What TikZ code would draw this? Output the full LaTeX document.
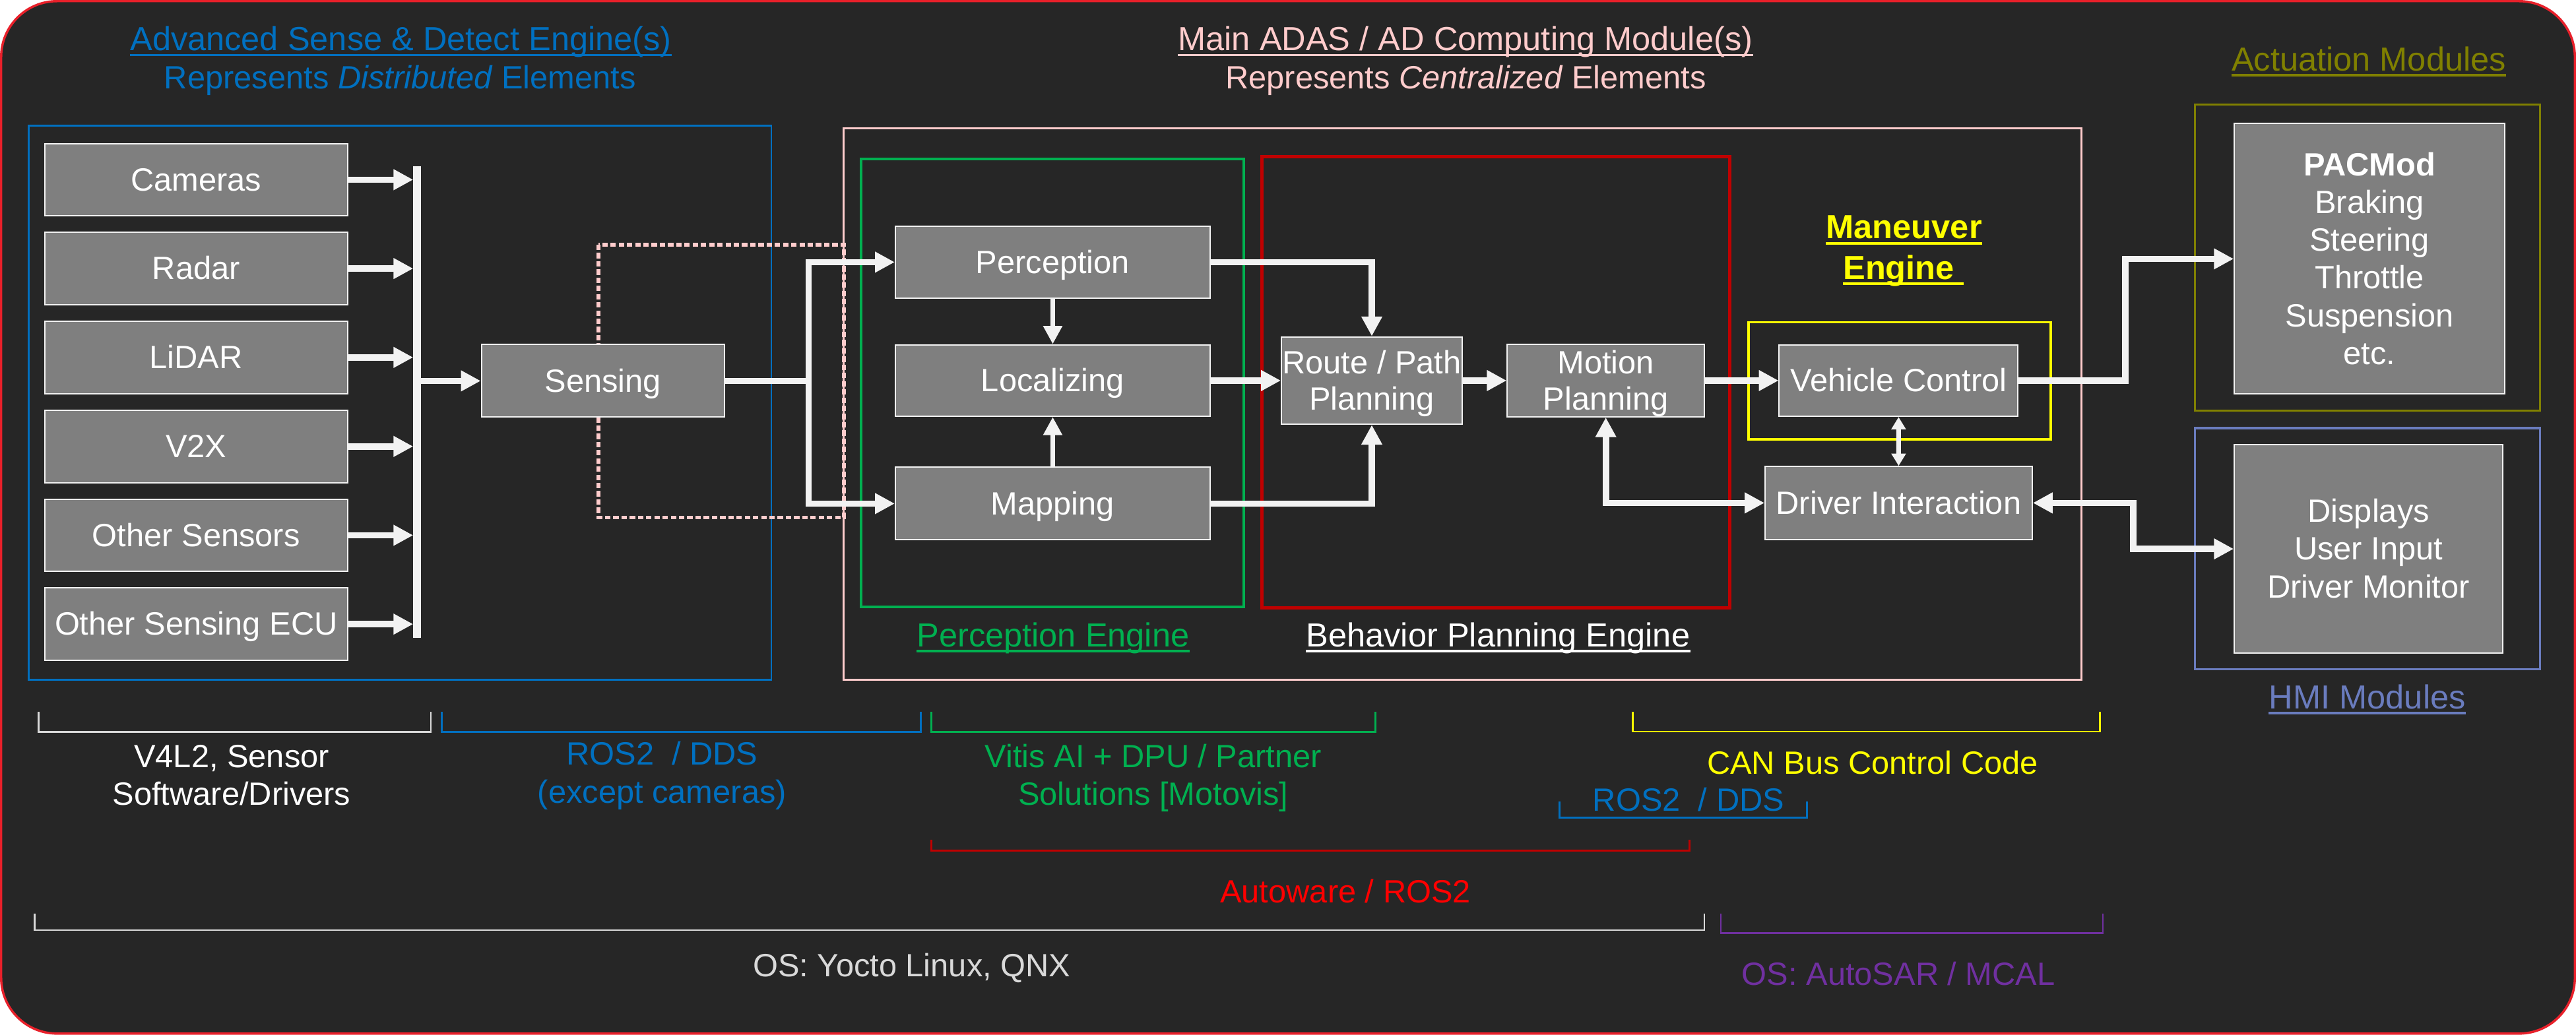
\documentclass[tikz,border=0pt]{standalone}
\usepackage{fontspec}
\setmainfont{Liberation Sans}
\usetikzlibrary{arrows.meta}
\definecolor{bg}{HTML}{262626}
\definecolor{frame}{HTML}{E8202A}
\definecolor{boxgray}{HTML}{7F7F7F}
\definecolor{boxline}{HTML}{F2F2F2}
\definecolor{arrowc}{HTML}{F2F2F2}
\definecolor{cblue}{HTML}{0070C0}
\definecolor{cpink}{HTML}{FFCCCC}
\definecolor{cgreen}{HTML}{00B050}
\definecolor{cdred}{HTML}{C00000}
\definecolor{cred}{HTML}{FF0000}
\definecolor{cyellow}{HTML}{FFFF00}
\definecolor{colive}{HTML}{808000}
\definecolor{chmi}{HTML}{6A7CBE}
\definecolor{cpurple}{HTML}{7030A0}
\definecolor{clgray}{HTML}{D9D9D9}
\newcommand{\fs}{\fontsize{19.6}{23}\selectfont}
\newcommand{\fsb}{\fontsize{19.6}{22.2}\selectfont}
\newcommand{\fsh}{\fontsize{20.3}{23}\selectfont}
\begin{document}
\begin{tikzpicture}[x=1pt,y=-1pt,
  gbox/.style={draw=boxline, line width=0.8pt, fill=boxgray, text=white, font=\fs, inner sep=0pt, align=center, text height=17.7pt, text depth=4.2pt},
  lbl/.style={inner sep=0pt, anchor=base, font=\fs},
  hdr/.style={inner sep=0pt, anchor=base, font=\fsh},
  fat/.style={draw=arrowc, line width=3.9pt, -{Triangle[width=12pt,length=12pt]}},
  fattwo/.style={draw=arrowc, line width=3.9pt, {Triangle[width=12pt,length=12pt]}-{Triangle[width=12pt,length=12pt]}},
  slim/.style={draw=arrowc, line width=3.2pt, -{Triangle[width=11pt,length=11pt]}},
  slimtwo/.style={draw=arrowc, line width=2.8pt, {Triangle[width=8.5pt,length=7.5pt]}-{Triangle[width=8.5pt,length=7.5pt]}},
  fatline/.style={draw=arrowc, line width=3.9pt},
  brk/.style={line width=1.1pt},
  ul/.style={line width=1.5pt}
]
\fill[white] (0,0) rectangle (1568,630);
\useasboundingbox (0,0) rectangle (1568,630);
\draw[frame, line width=1.4pt, fill=bg, rounded corners=34pt] (0.7,0.7) rectangle (1567.3,629.3);

% container frames
\draw[cblue, line width=1.1pt] (17.6,76.5) rectangle (469.5,414);
\draw[cpink, line width=1.1pt] (513.5,78) rectangle (1267,414);
\draw[cgreen, line width=1.6pt] (524.3,96.8) rectangle (757,369.5);
\draw[cdred, line width=2pt] (768,95.3) rectangle (1053,370.2);
\draw[cyellow, line width=1.3pt] (1064.3,196.3) rectangle (1248.3,267.5);
\draw[colive, line width=1.1pt] (1336,63.8) rectangle (1546,250);
\draw[chmi, line width=1.3pt] (1336,260.7) rectangle (1546,407.4);

% dotted pink link
\draw[cpink, line width=2.2pt, dash pattern=on 3.3pt off 1.7pt] (364.3,149) rectangle (513.6,315);

% sensor boxes
\node[gbox, minimum width=184.2pt, minimum height=44pt] (cam) at (119.4,109.4) {Cameras};
\node[gbox, minimum width=184.2pt, minimum height=44pt] (radar) at (119.4,163.5) {Radar};
\node[gbox, minimum width=184.2pt, minimum height=44pt] (lidar) at (119.4,217.6) {LiDAR};
\node[gbox, minimum width=184.2pt, minimum height=44pt] (vtx) at (119.4,271.8) {V2X};
\node[gbox, minimum width=184.2pt, minimum height=44pt] (oths) at (119.4,325.9) {Other Sensors};
\node[gbox, minimum width=184.2pt, minimum height=44pt] (ose) at (119.4,380) {Other Sensing ECU};

\node[gbox, minimum width=148pt, minimum height=44.2pt] (sens) at (367,231.9) {Sensing};

\node[gbox, minimum width=191.6pt, minimum height=44pt] (perc) at (640.8,159.6) {Perception};
\node[gbox, minimum width=191.6pt, minimum height=43.6pt] (loc) at (640.8,231.7) {Localizing};
\node[gbox, minimum width=191.6pt, minimum height=44.2pt] (map) at (640.8,306.6) {Mapping};

\node[gbox, font=\fsb, text depth=26.4pt, minimum width=110pt, minimum height=53.2pt] (route) at (835,231.7) {\begin{tabular}[t]{@{}c@{}}Route / Path\\Planning\end{tabular}};
\node[gbox, font=\fsb, text depth=26.4pt, minimum width=120pt, minimum height=43.6pt] (motion) at (977.45,231.7) {\begin{tabular}[t]{@{}c@{}}Motion\\Planning\end{tabular}};

\node[gbox, minimum width=145.3pt, minimum height=43.6pt] (vc) at (1155.65,231.7) {Vehicle Control};
\node[gbox, minimum width=162.6pt, minimum height=44.3pt] (di) at (1155.7,306.2) {Driver Interaction};

\node[gbox, text depth=119.2pt, minimum width=164.6pt, minimum height=164.6pt] (pac) at (1442.3,157.6) {\begin{tabular}[t]{@{}c@{}}\textbf{PACMod}\\Braking\\Steering\\Throttle\\Suspension\\etc.\end{tabular}};
\node[gbox, text depth=50.2pt, minimum width=163.5pt, minimum height=126.8pt] (disp) at (1441.75,334.2) {\begin{tabular}[t]{@{}c@{}}Displays\\User Input\\Driver Monitor\end{tabular}};

% bus
\coordinate (busT) at (253.9,101.4);
\coordinate (busB) at (253.9,388.3);
\coordinate (busL) at (251.5,0);
\coordinate (busR) at (256.3,0);
\draw[arrowc, line width=4.8pt] (busT) -- (busB);
\draw[fat] (cam.east) -- (cam.east -| busL);
\draw[fat] (radar.east) -- (radar.east -| busL);
\draw[fat] (lidar.east) -- (lidar.east -| busL);
\draw[fat] (vtx.east) -- (vtx.east -| busL);
\draw[fat] (oths.east) -- (oths.east -| busL);
\draw[fat] (ose.east) -- (ose.east -| busL);
\draw[fat] (sens.west -| busR) -- (sens.west);

% sensing trunk
\coordinate (tr) at (492.2,231.9);
\draw[fatline] (sens.east) -- (tr);
\draw[fat] (tr) |- (perc.west);
\draw[fat] (tr) |- (map.west);

% perception engine
\draw[slim] (perc.south) -- (loc.north);
\draw[slim] (map.north) -- (loc.south);
\draw[fat] (perc.east) -| (route.north);
\draw[fat] (loc.east) -- (route.west);
\draw[fat] (map.east) -| (route.south);
\draw[fat] (route.east) -- (motion.west);
\draw[fat] (motion.east) -- (vc.west);
\draw[fattwo] (motion.south) |- (di.west);
\draw[slimtwo] (vc.south) -- (di.north);
\draw[fat] (vc.east) -- ++(65,0) |- (pac.west);
\draw[fattwo] (di.east) -- ++(61,0) |- (disp.west);

% titles
\node[hdr, text=cblue] (t1) at (244,30.7) {Advanced Sense \& Detect Engine(s)};
\draw[cblue, ul] ([yshift=-2.8pt]t1.base west) -- ([yshift=-2.8pt]t1.base east);
\node[lbl, text=cblue] (t1b) at (243.5,54) {Represents \textit{Distributed} Elements};
\node[hdr, text=cpink] (t2) at (892,30.7) {Main ADAS / AD Computing Module(s)};
\draw[cpink, ul] ([yshift=-2.8pt]t2.base west) -- ([yshift=-2.8pt]t2.base east);
\node[lbl, text=cpink] (t2b) at (892.2,54) {Represents \textit{Centralized} Elements};
\node[hdr, text=colive] (t3) at (1441.9,43) {Actuation Modules};
\draw[colive, ul] ([yshift=-2.8pt]t3.base west) -- ([yshift=-2.8pt]t3.base east);
\node[hdr, text=chmi] (t4) at (1441,431.5) {HMI Modules};
\draw[chmi, ul] ([yshift=-2.8pt]t4.base west) -- ([yshift=-2.8pt]t4.base east);
\node[hdr, text=cgreen] (t5) at (641,393.6) {Perception Engine};
\draw[cgreen, ul] ([yshift=-2.8pt]t5.base west) -- ([yshift=-2.8pt]t5.base east);
\node[hdr, text=white] (t6) at (911.9,393.6) {Behavior Planning Engine};
\draw[white, ul] ([yshift=-2.8pt]t6.base west) -- ([yshift=-2.8pt]t6.base east);
\node[hdr, text=cyellow, font=\fsh\bfseries] (t7) at (1159,145) {Maneuver};
\draw[cyellow, ul] ([yshift=-3.2pt]t7.base west) -- ([yshift=-3.2pt]t7.base east);
\node[hdr, text=cyellow, font=\fsh\bfseries] (t8) at (1155.75,169.9) {Engine};
\draw[cyellow, ul] ([yshift=-2.9pt]t8.base west) -- ([yshift=-2.9pt,xshift=5.5pt]t8.base east);

% brackets
\draw[clgray, brk] (23.5,433.4) -- (23.5,445.7) -- (262.3,445.7) -- (262.3,433.4);
\draw[cblue, brk] (268.8,433.4) -- (268.8,445.7) -- (560.5,445.7) -- (560.5,433.4);
\draw[cgreen, brk] (567,433.4) -- (567,445.7) -- (837.3,445.7) -- (837.3,433.4);
\draw[cyellow, brk] (993.9,433.4) -- (993.9,445.4) -- (1278.2,445.4) -- (1278.2,433.4);
\draw[cblue, brk] (949.4,488) -- (949.4,497.8) -- (1100,497.8) -- (1100,488);
\draw[cdred, brk] (567,511.2) -- (567,518) -- (1028.4,518) -- (1028.4,511.2);
\draw[clgray, brk] (21,556.3) -- (21,566.3) -- (1037.4,566.3) -- (1037.4,556.3);
\draw[cpurple, brk] (1047.5,556.3) -- (1047.5,568.2) -- (1280,568.2) -- (1280,556.3);

% bottom labels
\node[lbl, text=white] (b1) at (141,467.2) {\begin{tabular}[t]{@{}c@{}}V4L2, Sensor\\Software/Drivers\end{tabular}};
\node[lbl, text=cblue] (b2) at (403,465.8) {\begin{tabular}[t]{@{}c@{}}ROS2\ \ / DDS\\(except cameras)\end{tabular}};
\node[lbl, text=cgreen] (b3) at (702,467.2) {\begin{tabular}[t]{@{}c@{}}Vitis AI + DPU / Partner\\Solutions [Motovis]\end{tabular}};
\node[lbl, text=cyellow] (b4) at (1139.8,471.3) {CAN Bus Control Code};
\node[lbl, text=cblue] (b5) at (1027.8,493.7) {ROS2\ \ / DDS};
\node[lbl, text=cred] (b6) at (819,549.6) {Autoware / ROS2};
\node[lbl, text=clgray] (b7) at (555,594.7) {OS: Yocto Linux, QNX};
\node[lbl, text=cpurple] (b8) at (1155.6,600) {OS: AutoSAR / MCAL};
\end{tikzpicture}
\end{document}
